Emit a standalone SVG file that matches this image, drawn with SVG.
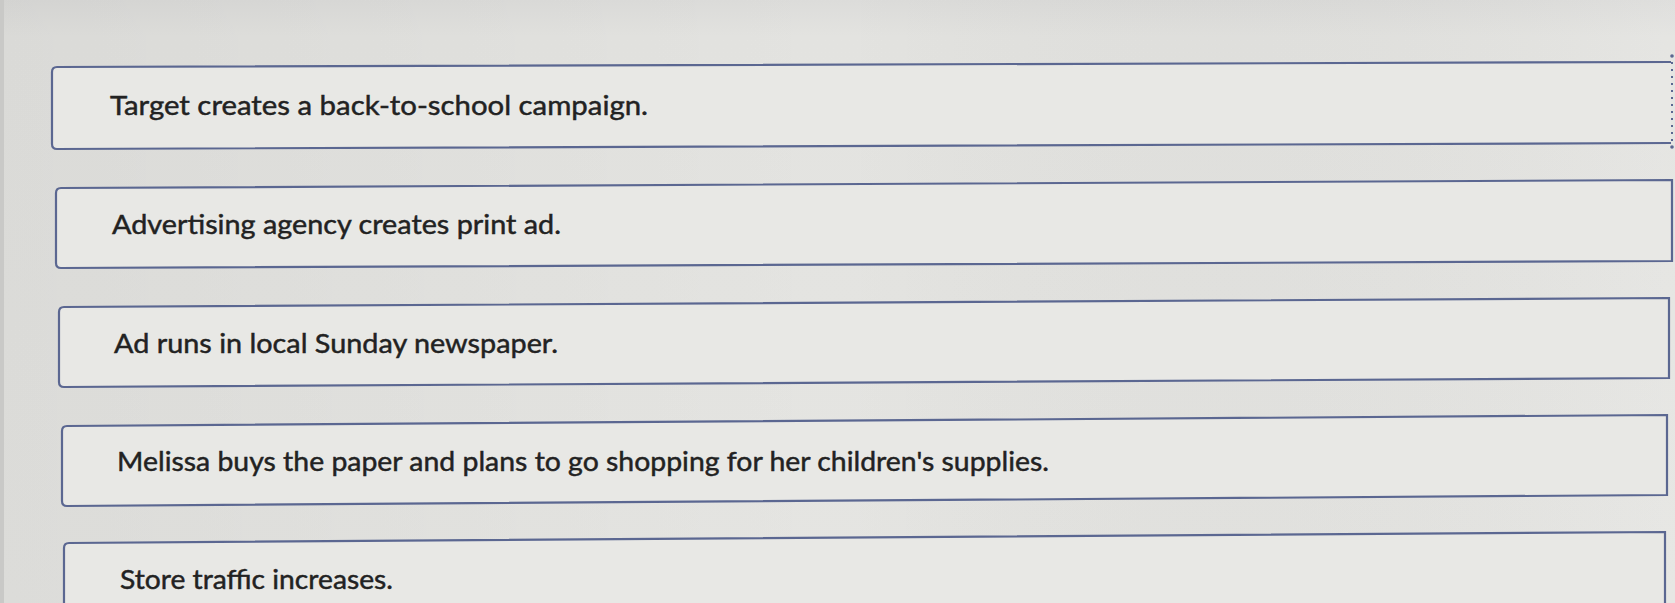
<svg xmlns="http://www.w3.org/2000/svg" width="1675" height="603" viewBox="0 0 1675 603">
  <defs>
    <linearGradient id="bg" x1="0" y1="0" x2="0" y2="1">
      <stop offset="0" stop-color="#dcdcda"/>
      <stop offset="0.06" stop-color="#e3e3e0"/>
      <stop offset="1" stop-color="#e5e5e2"/>
    </linearGradient>
    <linearGradient id="lg" x1="0" y1="0" x2="1" y2="0">
      <stop offset="0" stop-color="#000" stop-opacity="0.04"/>
      <stop offset="0.5" stop-color="#000" stop-opacity="0"/>
      <stop offset="1" stop-color="#fff" stop-opacity="0.08"/>
    </linearGradient>
  </defs>
  <style>
    .box { fill: #e8e8e5; stroke: #5b6791; stroke-width: 2.2; }
    .lbl { font-family: Lato, "Open Sans", "Liberation Sans", sans-serif; font-size: 26.5px; fill: #222; stroke: #222; stroke-width: 0.45; }
    .dot { fill: #5b6791; }
  </style>
  <rect x="0" y="0" width="1675" height="603" fill="url(#bg)"/>
  <rect x="0" y="0" width="1675" height="603" fill="url(#lg)"/>
  <rect x="0" y="0" width="4" height="603" fill="#c9c9c7"/>

  <g id="connectors"/>

  <g id="node1">
    <path class="box" d="M1671,62 L57,67 Q52,67 52,72 L52,144 Q52,149 57,149 L1671,143"/>
    <line x1="1672" y1="62" x2="1672" y2="143" stroke="#5b6791" stroke-width="2" stroke-dasharray="2 5"/>
    <circle class="dot" cx="1672" cy="56" r="1.8"/>
    <circle class="dot" cx="1672" cy="147" r="1.8"/>
    <text class="lbl" x="110" y="115" textLength="538" lengthAdjust="spacingAndGlyphs">Target creates a back-to-school campaign.</text>
  </g>

  <g id="node2">
    <path class="box" d="M1672,180 L61,188 Q56,188 56,193 L56,263 Q56,268 61,268 L1672,261 Z"/>
    <text class="lbl" x="112" y="234" textLength="449" lengthAdjust="spacingAndGlyphs">Advertising agency creates print ad.</text>
  </g>

  <g id="node3">
    <path class="box" d="M1669,298 L64,307 Q59,307 59,312 L59,382 Q59,387 64,387 L1669,378 Z"/>
    <text class="lbl" x="114" y="353" textLength="444" lengthAdjust="spacingAndGlyphs">Ad runs in local Sunday newspaper.</text>
  </g>

  <g id="node4">
    <path class="box" d="M1667,415 L67,426 Q62,426 62,431 L62,501 Q62,506 67,506 L1667,495 Z"/>
    <text class="lbl" x="117" y="471" textLength="932" lengthAdjust="spacingAndGlyphs">Melissa buys the paper and plans to go shopping for her children's supplies.</text>
  </g>

  <g id="node5">
    <path class="box" d="M1665,610 L1665,532 L69,543 Q64,543 64,548 L64,610"/>
    <text class="lbl" x="120" y="589" textLength="273" lengthAdjust="spacingAndGlyphs">Store traffic increases.</text>
  </g>
</svg>
